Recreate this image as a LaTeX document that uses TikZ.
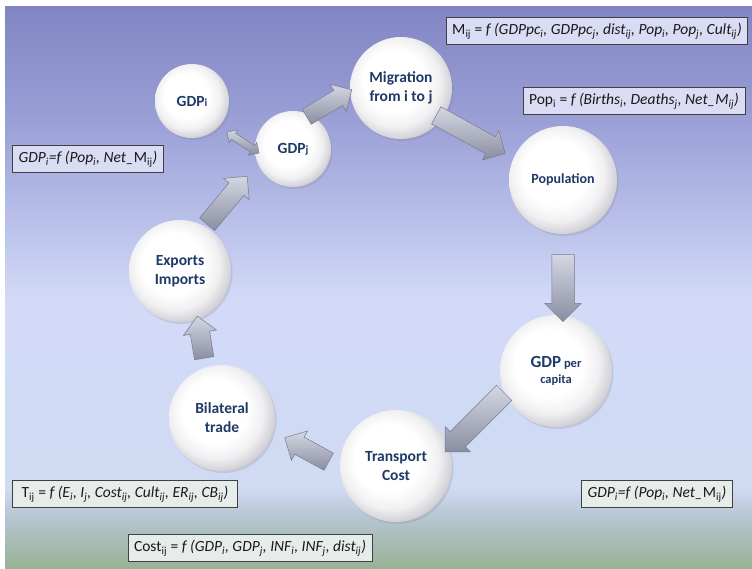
\documentclass[tikz,border=0pt]{standalone}
\usepackage{fontspec}
\setmainfont{Carlito}
\usetikzlibrary{shapes.arrows,shadows,calc}
\definecolor{bgTop}{HTML}{8185C3}
\definecolor{bgA}{HTML}{9A9FD6}
\definecolor{bgB}{HTML}{D2DAF8}
\definecolor{bgC}{HTML}{D0DAF2}
\definecolor{bgD}{HTML}{B4C4CE}
\definecolor{bgBot}{HTML}{98B294}
\definecolor{rimA}{HTML}{F0F0F2}
\definecolor{rimB}{HTML}{D2D2D8}
\definecolor{rimC}{HTML}{B0B0B8}
\definecolor{lbl}{HTML}{1F3A68}
\definecolor{arrL}{HTML}{D4D7E2}
\definecolor{arrD}{HTML}{8A8EA2}
\definecolor{arrE}{HTML}{767B8E}
\definecolor{boxTop}{HTML}{D9DCF3}
\definecolor{boxBot}{HTML}{E6ECEA}
\pgfdeclareverticalshading{bgshade}{100bp}{color(0bp)=(bgBot); color(25bp)=(bgBot); color(29.36bp)=(bgD); color(32.21bp)=(bgC); color(48.93bp)=(bgB); color(64.95bp)=(bgA); color(75bp)=(bgTop); color(100bp)=(bgTop)}
\pgfdeclareradialshading{ballw}{\pgfpoint{-5bp}{5bp}}{color(0bp)=(white); color(15bp)=(white); color(22bp)=(rimA); color(27bp)=(rimB); color(31bp)=(rimC); color(50bp)=(rimC)}
\newcommand\sbs[1]{\textsubscript{#1}}
\newcommand\barrow[5]{\path let \p1=(#1), \p2=(#2), \n1={atan2(\y2-\y1,\x2-\x1)}, \n2={veclen(\x2-\x1,\y2-\y1)} in node[barr, inner ysep=#3, single arrow head extend=#4, minimum height=\n2, rotate=\n1] (#5) at ($(#1)!0.5!(#2)$) {};}
\tikzset{
  circ/.style={circle, shade, shading=ballw, minimum size=#1, inner sep=0pt, align=center,
    font=\bfseries\fontsize{15.5}{19}\selectfont, text=lbl,
    drop shadow={opacity=0.22, shadow xshift=1.5pt, shadow yshift=-2pt}},
  barr/.style={single arrow, shade, top color=arrL, bottom color=arrD, draw=arrE, line width=0.5pt,
    inner xsep=0pt, single arrow tip angle=90, single arrow head indent=0pt, outer sep=0pt},
  fbox/.style={draw=black!75, line width=0.8pt, fill=#1, inner xsep=6pt, inner ysep=6pt,
    font=\fontsize{15.5}{17}\selectfont, text=black!90, text height=11pt, text depth=4pt}
}
\begin{document}
\begin{tikzpicture}[x=1pt,y=-1pt]
\useasboundingbox (0,0) rectangle (752,569);
\fill[white] (0,0) rectangle (752,569);
\shade[shading=bgshade] (5,7) rectangle (752,569);

% circles
\node[circ=74pt]  (gdpi) at (192,101) {GDP{\fontsize{11}{11}\selectfont i}};
\node[circ=76pt]  (gdpj) at (293,149) {GDP{\fontsize{11}{11}\selectfont j}};
\node[circ=102pt] (mig)  at (401,88)  {Migration\\from i to j};
\node[circ=108pt] (pop)  at (563,180) {\fontsize{14}{15}\selectfont Population};
\node[circ=112pt] (gpc)  at (556,371) {\fontsize{17}{18}\selectfont GDP\,{\fontsize{12.5}{13}\selectfont per}\\[-3pt]{\fontsize{12.5}{14}\selectfont capita}};
\node[circ=112pt] (tc)   at (396,466) {Transport\\Cost};
\node[circ=106pt] (bt)   at (222,418) {Bilateral\\trade};
\node[circ=102pt] (ei)   at (180,271) {Exports\\Imports};

% arrow end points
\coordinate (a1s) at (303,119); \coordinate (a1e) at (348,92);
\coordinate (a2s) at (432,113); \coordinate (a2e) at (501,151);
\coordinate (a3s) at (563,249); \coordinate (a3e) at (563,316);
\coordinate (a4s) at (508,389); \coordinate (a4e) at (449,448);
\coordinate (a5s) at (333,464); \coordinate (a5e) at (289,440);
\coordinate (a6s) at (205,363); \coordinate (a6e) at (198,321);
\coordinate (a7s) at (204,228); \coordinate (a7e) at (244,180);
\coordinate (a8s) at (227,132); \coordinate (a8e) at (259,153);

\barrow{a1s}{a1e}{8.5pt}{7pt}{ar1}
\barrow{a2s}{a2e}{9.5pt}{7pt}{ar2}
\barrow{a3s}{a3e}{11pt}{7pt}{ar3}
\barrow{a4s}{a4e}{10.5pt}{7pt}{ar4}
\barrow{a5s}{a5e}{9.5pt}{7pt}{ar5}
\barrow{a6s}{a6e}{9.5pt}{7pt}{ar6}
\barrow{a7s}{a7e}{9.5pt}{7pt}{ar7}
\path let \p1=(a8s), \p2=(a8e), \n1={atan2(\y2-\y1,\x2-\x1)}, \n2={veclen(\x2-\x1,\y2-\y1)} in
  node[double arrow, shade, top color=arrL, bottom color=arrD, draw=arrE, line width=0.5pt,
    inner xsep=0pt, inner ysep=3.5pt, double arrow head extend=4pt, double arrow tip angle=90,
    minimum height=\n2, rotate=\n1] (ar8) at ($(a8s)!0.5!(a8e)$) {};

% formula boxes
\node[fbox=boxTop] (fm) at (597,31) {M\sbs{ij} = \textit{f (GDPpc\sbs{i}, GDPpc\sbs{j}, dist\sbs{ij}, Pop\sbs{i}, Pop\sbs{j}, Cult\sbs{ij})}};
\node[fbox=boxTop] (fp) at (634,101) {Pop\sbs{i} = \textit{f (Births\sbs{i}, Deaths\sbs{j}, Net\_M\sbs{ij})}};
\node[fbox=boxTop] (fg1) at (88,159) {\textit{GDP\sbs{i}=f (Pop\sbs{i}, Net\_}M\sbs{ij}\textit{)}};
\node[fbox=boxBot, inner xsep=9pt] (ft) at (125,494) {T\sbs{ij} = \textit{f (E\sbs{i}, I\sbs{j}, Cost\sbs{ij}, Cult\sbs{ij}, ER\sbs{ij}, CB\sbs{ij})}};
\node[fbox=boxBot] (fc) at (250,548) {Cost\sbs{ij} = \textit{f (GDP\sbs{i}, GDP\sbs{j}, INF\sbs{i}, INF\sbs{j}, dist\sbs{ij})}};
\node[fbox=boxBot] (fg2) at (657,494) {\textit{GDP\sbs{i}=f (Pop\sbs{i}, Net\_}M\sbs{ij}\textit{)}};
\end{tikzpicture}
\end{document}
